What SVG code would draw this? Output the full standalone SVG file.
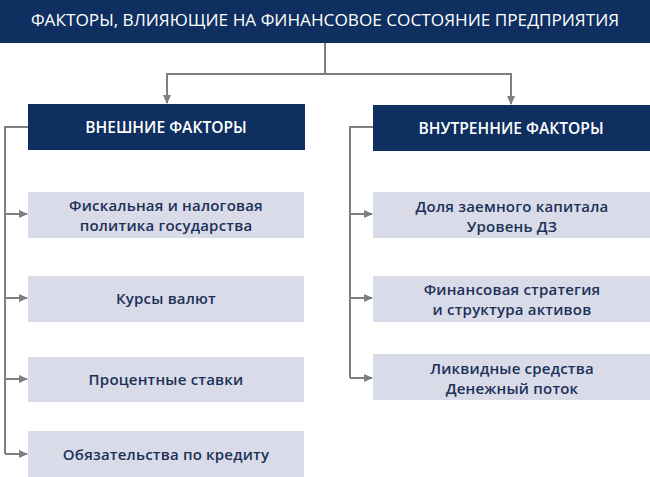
<svg xmlns="http://www.w3.org/2000/svg" width="650" height="477" viewBox="0 0 650 477">
<defs>
<marker id="arr" markerWidth="9" markerHeight="8" refX="8" refY="4" orient="auto" markerUnits="userSpaceOnUse">
<path d="M0,0 L9,4 L0,8 Z" fill="#7f7f7f"/>
</marker>
<style>
.dark{fill:#0e2f5f}
.light{fill:#d9dbe8}
.tt{font-family:"Open Sans","Liberation Sans",sans-serif;font-size:17.2px;fill:#ffffff;text-anchor:middle;font-weight:400}
.ht{font-family:"Open Sans","Liberation Sans",sans-serif;font-size:15.6px;fill:#ffffff;text-anchor:middle;font-weight:600}
.bt{font-family:"Open Sans","Liberation Sans",sans-serif;font-size:15px;fill:#1b3158;text-anchor:middle;font-weight:600;letter-spacing:0.2px}
.c{fill:none;stroke:#7f7f7f;stroke-width:2}
</style>
</defs>
<rect x="0" y="0" width="650" height="477" fill="#ffffff"/>
<g id="title">
<rect class="dark" x="0" y="0" width="650" height="43"/>
<text class="tt" x="325" y="26">ФАКТОРЫ, ВЛИЯЮЩИЕ НА ФИНАНСОВОЕ СОСТОЯНИЕ ПРЕДПРИЯТИЯ</text>
</g>
<g id="connectors">
<path class="c" d="M325,43 V74 M167,74 H511"/>
<path class="c" d="M167,73 V103" marker-end="url(#arr)"/>
<path class="c" d="M511,73 V104" marker-end="url(#arr)"/>
<path class="c" d="M28,127 H5 V454"/>
<path class="c" d="M5,214 H27" marker-end="url(#arr)"/>
<path class="c" d="M5,298 H27" marker-end="url(#arr)"/>
<path class="c" d="M5,379 H27" marker-end="url(#arr)"/>
<path class="c" d="M5,454 H27" marker-end="url(#arr)"/>
<path class="c" d="M373,127 H350 V378"/>
<path class="c" d="M350,214 H372" marker-end="url(#arr)"/>
<path class="c" d="M350,298 H372" marker-end="url(#arr)"/>
<path class="c" d="M350,378 H372" marker-end="url(#arr)"/>
</g>
<g id="external">
<rect class="dark" x="28" y="104" width="277" height="46"/>
<text class="ht" x="166" y="133">ВНЕШНИЕ ФАКТОРЫ</text>
</g>
<g id="internal">
<rect class="dark" x="373" y="105" width="277" height="46"/>
<text class="ht" x="511" y="134">ВНУТРЕННИЕ ФАКТОРЫ</text>
</g>
<g id="e1">
<rect class="light" x="28" y="192" width="276" height="46"/>
<text class="bt" x="166" y="211">Фискальная и налоговая</text>
<text class="bt" x="166" y="231">политика государства</text>
</g>
<g id="e2">
<rect class="light" x="28" y="276" width="276" height="46"/>
<text class="bt" x="166" y="304">Курсы валют</text>
</g>
<g id="e3">
<rect class="light" x="28" y="357" width="276" height="45"/>
<text class="bt" x="166" y="385">Процентные ставки</text>
</g>
<g id="e4">
<rect class="light" x="28" y="431" width="276" height="46"/>
<text class="bt" x="166" y="460">Обязательства по кредиту</text>
</g>
<g id="i1">
<rect class="light" x="373" y="192" width="277" height="46"/>
<text class="bt" x="512" y="212">Доля заемного капитала</text>
<text class="bt" x="512" y="232">Уровень ДЗ</text>
</g>
<g id="i2">
<rect class="light" x="373" y="276" width="277" height="46"/>
<text class="bt" x="512" y="295">Финансовая стратегия</text>
<text class="bt" x="512" y="315">и структура активов</text>
</g>
<g id="i3">
<rect class="light" x="373" y="354" width="277" height="46"/>
<text class="bt" x="512" y="374">Ликвидные средства</text>
<text class="bt" x="512" y="394">Денежный поток</text>
</g>
</svg>
